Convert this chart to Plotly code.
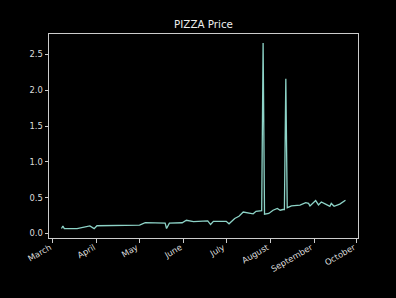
import plotly.graph_objects as go

dates = ["2023-03-07", "2023-03-08", "2023-03-09", "2023-03-18", "2023-03-27", "2023-03-30", "2023-04-01",
         "2023-04-15", "2023-05-01", "2023-05-05", "2023-05-12", "2023-05-19", "2023-05-20", "2023-05-22",
         "2023-05-31", "2023-06-03", "2023-06-08", "2023-06-13", "2023-06-15", "2023-06-18", "2023-06-20",
         "2023-06-22", "2023-07-01", "2023-07-03", "2023-07-07", "2023-07-10", "2023-07-13", "2023-07-16",
         "2023-07-20", "2023-07-22", "2023-07-25", "2023-07-26", "2023-07-27", "2023-07-28", "2023-07-31",
         "2023-08-03", "2023-08-06", "2023-08-08", "2023-08-10", "2023-08-11", "2023-08-12", "2023-08-13",
         "2023-08-16", "2023-08-22", "2023-08-26", "2023-08-28", "2023-08-29", "2023-08-31", "2023-09-02",
         "2023-09-04", "2023-09-06", "2023-09-09", "2023-09-12", "2023-09-13", "2023-09-15", "2023-09-19",
         "2023-09-23"]
prices = [0.07, 0.105, 0.068, 0.068, 0.105, 0.068, 0.108,
          0.112, 0.116, 0.152, 0.145, 0.145, 0.07, 0.145,
          0.15, 0.185, 0.165, 0.17, 0.18, 0.175, 0.125,
          0.17, 0.17, 0.135, 0.21, 0.24, 0.30, 0.29,
          0.275, 0.31, 0.32, 0.32, 2.66, 0.27, 0.28,
          0.325, 0.35, 0.325, 0.335, 0.335, 2.16, 0.36,
          0.385, 0.395, 0.43, 0.42, 0.385, 0.43, 0.46,
          0.40, 0.44, 0.41, 0.38, 0.42, 0.38, 0.41,
          0.465]

tick_vals = ["2023-03-01", "2023-04-01", "2023-05-01", "2023-06-01", "2023-07-01", "2023-08-01", "2023-09-01", "2023-10-01"]
tick_text = ["March", "April", "May", "June", "July", "August", "September", "October"]
y_ticks = [0.0, 0.5, 1.0, 1.5, 2.0, 2.5]

fig = go.Figure()
fig.add_trace(go.Scatter(x=dates, y=prices, mode="lines",
                         line=dict(color="#8dd3c7", width=1.3)))

axis_common = dict(showline=True, mirror=True, linecolor="#cccccc", linewidth=1,
                   ticks="outside", ticklen=3.5, tickcolor="#cccccc", tickwidth=1,
                   showgrid=False, zeroline=False,
                   tickfont=dict(family="DejaVu Sans", size=8.4, color="#dddddd"))

fig.update_layout(
    width=396, height=298,
    paper_bgcolor="black", plot_bgcolor="black",
    margin=dict(l=49, r=38, t=34, b=60),
    showlegend=False,
    title=dict(text="PIZZA Price", x=0.5, xanchor="center", xref="paper",
               y=1 - 24 / 298, yanchor="middle",
               font=dict(family="DejaVu Sans", size=10.3, color="#eeeeee")),
    xaxis=dict(type="date", range=["2023-02-26 05:00", "2023-10-01 20:00"],
               tickvals=tick_vals, ticktext=tick_text, tickangle=-30,
               ticklabelstandoff=-3, ticklabelshift=-3, **axis_common),
    yaxis=dict(range=[-0.063, 2.786], tickvals=y_ticks,
               ticktext=[f"{v:.1f}" for v in y_ticks], **axis_common),
)

fig.write_html("out.html")
